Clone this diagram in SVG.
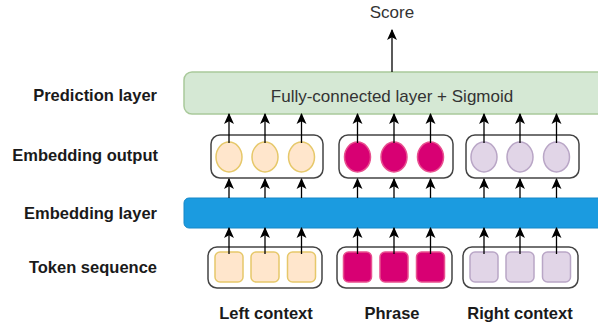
<svg xmlns="http://www.w3.org/2000/svg" width="598" height="327" viewBox="0 0 598 327">
<defs>
<marker id="ah" markerUnits="userSpaceOnUse" markerWidth="11" markerHeight="11" viewBox="0 0 10 10" refX="9" refY="5" orient="auto">
<path d="M0,0.5 L10,5 L0,9.5 L2.5,5 z" fill="#000"/>
</marker>
</defs>
<style>
.lbl{font-family:"Liberation Sans",Arial,sans-serif;font-weight:bold;font-size:16.5px;fill:#1a1a1a}
.txt{font-family:"Liberation Sans",Arial,sans-serif;font-size:17px;fill:#333}
.grp{fill:#fff;stroke:#444;stroke-width:1.5}
.y{fill:#ffe6cc;stroke:#e6c86a;stroke-width:1.5}
.p{fill:#d80073;stroke:#e8508f;stroke-width:1.5}
.v{fill:#e1d5e7;stroke:#b9a6c6;stroke-width:1.5}
.c{stroke:#000;stroke-width:1.3;fill:none;marker-end:url(#ah)}
</style>
<rect width="598" height="327" fill="#fff"/>
<g id="labels">
<text class="lbl" x="157" y="101" text-anchor="end">Prediction layer</text>
<text class="lbl" x="158" y="161" text-anchor="end">Embedding output</text>
<text class="lbl" x="157" y="219" text-anchor="end">Embedding layer</text>
<text class="lbl" x="157" y="273" text-anchor="end">Token sequence</text>
<text class="lbl" x="266" y="319" text-anchor="middle">Left context</text>
<text class="lbl" x="392" y="319" text-anchor="middle">Phrase</text>
<text class="lbl" x="520" y="319" text-anchor="middle">Right context</text>
</g>
<g id="score"><text class="txt" x="392" y="18" text-anchor="middle">Score</text></g>
<g id="prediction">
<rect x="184" y="72" width="424" height="42" rx="8" fill="#d5e8d4" stroke="#a9c99a" stroke-width="1.5"/>
<text class="txt" x="392" y="102" text-anchor="middle">Fully-connected layer + Sigmoid</text>
</g>
<g id="embedding-layer">
<rect x="184" y="198" width="424" height="30" rx="5" fill="#1b9be0" stroke="#1688c8" stroke-width="1"/>
</g>
<g id="emb-left">
<rect class="grp" x="211" y="135" width="112" height="43" rx="9"/>
<ellipse class="y" cx="229" cy="157" rx="13" ry="15"/>
<ellipse class="y" cx="265" cy="157" rx="13" ry="15"/>
<ellipse class="y" cx="301.5" cy="157" rx="13" ry="15"/>
</g>
<g id="emb-phrase">
<rect class="grp" x="339" y="135" width="114" height="43" rx="9"/>
<ellipse class="p" cx="357.5" cy="157" rx="13" ry="15"/>
<ellipse class="p" cx="394" cy="157" rx="13" ry="15"/>
<ellipse class="p" cx="430.5" cy="157" rx="13" ry="15"/>
</g>
<g id="emb-right">
<rect class="grp" x="466" y="135" width="113" height="43" rx="9"/>
<ellipse class="v" cx="484" cy="157" rx="13" ry="15"/>
<ellipse class="v" cx="520" cy="157" rx="13" ry="15"/>
<ellipse class="v" cx="556.5" cy="157" rx="13" ry="15"/>
</g>
<g id="tok-left">
<rect class="grp" x="208" y="247" width="114" height="41" rx="9"/>
<rect class="y" x="215" y="252" width="28" height="30" rx="5"/>
<rect class="y" x="251" y="252" width="28" height="30" rx="5"/>
<rect class="y" x="287.5" y="252" width="28" height="30" rx="5"/>
</g>
<g id="tok-phrase">
<rect class="grp" x="337" y="247" width="115" height="41" rx="9"/>
<rect class="p" x="343.5" y="252" width="28" height="30" rx="5"/>
<rect class="p" x="380" y="252" width="28" height="30" rx="5"/>
<rect class="p" x="416.5" y="252" width="28" height="30" rx="5"/>
</g>
<g id="tok-right">
<rect class="grp" x="463" y="247" width="115" height="41" rx="9"/>
<rect class="v" x="470" y="252" width="28" height="30" rx="5"/>
<rect class="v" x="506" y="252" width="28" height="30" rx="5"/>
<rect class="v" x="542.5" y="252" width="28" height="30" rx="5"/>
</g>
<g id="connectors">
<line class="c" x1="392" y1="72" x2="392" y2="30"/>
<line class="c" x1="229" y1="143" x2="229" y2="114"/>
<line class="c" x1="265" y1="143" x2="265" y2="114"/>
<line class="c" x1="301.5" y1="143" x2="301.5" y2="114"/>
<line class="c" x1="357.5" y1="143" x2="357.5" y2="114"/>
<line class="c" x1="394" y1="143" x2="394" y2="114"/>
<line class="c" x1="430.5" y1="143" x2="430.5" y2="114"/>
<line class="c" x1="484" y1="143" x2="484" y2="114"/>
<line class="c" x1="520" y1="143" x2="520" y2="114"/>
<line class="c" x1="556.5" y1="143" x2="556.5" y2="114"/>
<line class="c" x1="229" y1="198" x2="229" y2="179"/>
<line class="c" x1="265" y1="198" x2="265" y2="179"/>
<line class="c" x1="301.5" y1="198" x2="301.5" y2="179"/>
<line class="c" x1="357.5" y1="198" x2="357.5" y2="179"/>
<line class="c" x1="394" y1="198" x2="394" y2="179"/>
<line class="c" x1="430.5" y1="198" x2="430.5" y2="179"/>
<line class="c" x1="484" y1="198" x2="484" y2="179"/>
<line class="c" x1="520" y1="198" x2="520" y2="179"/>
<line class="c" x1="556.5" y1="198" x2="556.5" y2="179"/>
<line class="c" x1="229" y1="254" x2="229" y2="228"/>
<line class="c" x1="265" y1="254" x2="265" y2="228"/>
<line class="c" x1="301.5" y1="254" x2="301.5" y2="228"/>
<line class="c" x1="357.5" y1="254" x2="357.5" y2="228"/>
<line class="c" x1="394" y1="254" x2="394" y2="228"/>
<line class="c" x1="430.5" y1="254" x2="430.5" y2="228"/>
<line class="c" x1="484" y1="254" x2="484" y2="228"/>
<line class="c" x1="520" y1="254" x2="520" y2="228"/>
<line class="c" x1="556.5" y1="254" x2="556.5" y2="228"/>
</g>
</svg>
